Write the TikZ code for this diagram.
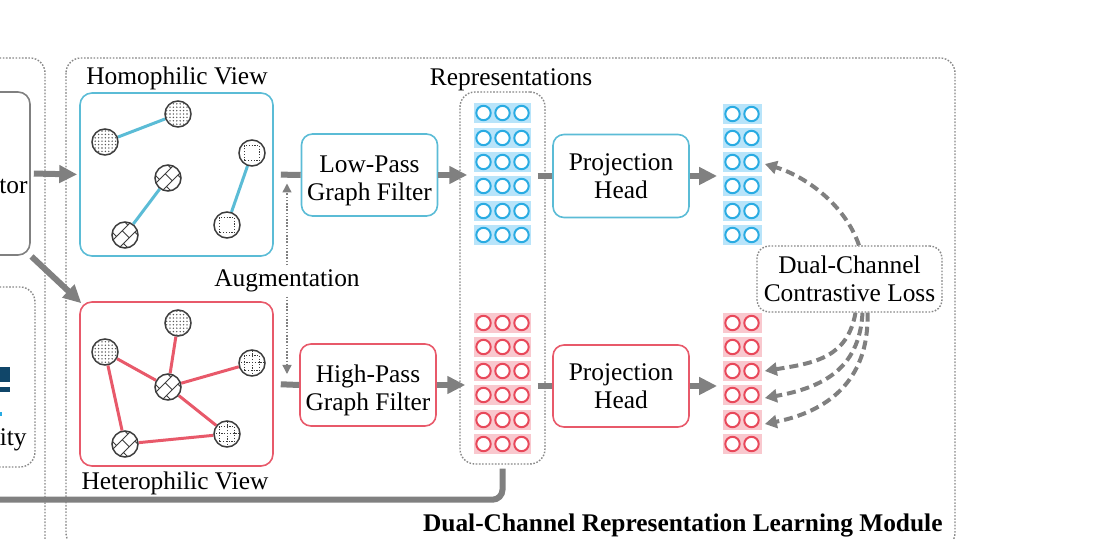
\documentclass[tikz,border=0pt]{standalone}
\usepackage{fontspec}
\setmainfont{Liberation Serif}
\usetikzlibrary{arrows.meta,patterns.meta,backgrounds}
\definecolor{hblue}{RGB}{91,188,214}
\definecolor{hred}{RGB}{232,89,106}
\definecolor{cellb}{RGB}{184,228,250}
\definecolor{circb}{RGB}{41,171,226}
\definecolor{cellr}{RGB}{249,200,206}
\definecolor{circr}{RGB}{232,72,90}
\definecolor{arrgray}{RGB}{128,128,128}
\definecolor{dotgray}{RGB}{135,135,135}
\definecolor{darkblue}{RGB}{16,70,105}
\definecolor{nodeline}{RGB}{60,60,60}
\newcommand\lowtxt[1]{\raisebox{-3pt}[\height][\depth]{\begin{tabular}{@{}c@{}}#1\end{tabular}}}
\begin{document}
\begin{tikzpicture}[x=0.5pt,y=-0.5pt,
  font=\fontsize{12.7}{14}\selectfont,
  frame/.style={draw=dotgray, line width=0.7pt, dash pattern=on 0.8pt off 0.8pt, rounded corners=7.5pt},
  viewbox/.style={draw, line width=0.8pt, rounded corners=6pt, minimum width=96.5pt, minimum height=81.5pt, inner sep=0pt},
  procbox/.style={draw, line width=0.8pt, rounded corners=5.5pt, minimum width=68pt, minimum height=41pt, align=center, inner sep=0pt},
  thickarrow/.style={draw=arrgray, line width=3pt, -{Triangle[length=9pt,width=8.5pt]}},
  thickline/.style={draw=arrgray, line width=3pt},
  dasharrow/.style={draw=arrgray, line width=2pt, dash pattern=on 4.5pt off 2.5pt, -{Triangle[length=6pt,width=6.5pt]}},
  augarrow/.style={draw=arrgray, line width=0.7pt, dash pattern=on 0.8pt off 0.8pt, -{Triangle[length=4.5pt,width=4.5pt]}},
  gnode/.style={circle, draw=nodeline, line width=0.75pt, minimum size=13pt, inner sep=0pt, fill=white},
  dotn/.style={gnode, postaction={pattern={Dots[distance=1.7pt,radius=0.38pt]}, pattern color=black!65}},
  brickn/.style={gnode, path picture={
     \begin{scope}[shift={(path picture bounding box.center)}, x={(0.707pt,0.707pt)}, y={(-0.707pt,0.707pt)}]
       \draw[nodeline, line width=0.45pt] (-8,-2.5) -- (8,-2.5) (-8,2.5) -- (8,2.5)
         (0.5,-2.5) -- (0.5,2.5) (-3.5,2.5) -- (-3.5,8) (4.5,2.5) -- (4.5,8)
         (-3.5,-2.5) -- (-3.5,-8) (4.5,-2.5) -- (4.5,-8);
     \end{scope}}},
  sqn/.style={gnode, path picture={
     \draw[nodeline, line width=0.5pt, dash pattern=on 0.6pt off 0.8pt]
       ([shift={(-3.8pt,-3.8pt)}]path picture bounding box.center) rectangle ++(7.6pt,7.6pt);}},
  crossn/.style={gnode, path picture={
     \draw[nodeline, line width=0.5pt, dash pattern=on 0.6pt off 0.8pt]
       ([shift={(-3.8pt,-3.8pt)}]path picture bounding box.center) rectangle ++(7.6pt,7.6pt)
       ([xshift=-7pt]path picture bounding box.center) -- ++(14pt,0pt)
       ([yshift=-7pt]path picture bounding box.center) -- ++(0pt,14pt);}},
  hedgeb/.style={draw=hblue, line width=1.5pt},
  hedger/.style={draw=hred, line width=1.5pt},
  bcell/.style={rectangle, fill=cellb, minimum width=28.5pt, minimum height=10pt, inner sep=0pt,
     path picture={\foreach \k in {-1,0,1} \draw[circb, line width=1pt, fill=white]
       ([xshift=\k*9.5pt]path picture bounding box.center) circle (3.6pt);}},
  rcell/.style={rectangle, fill=cellr, minimum width=28.5pt, minimum height=10pt, inner sep=0pt,
     path picture={\foreach \k in {-1,0,1} \draw[circr, line width=1pt, fill=white]
       ([xshift=\k*9.5pt]path picture bounding box.center) circle (3.6pt);}},
  bcelltwo/.style={rectangle, fill=cellb, minimum width=19.5pt, minimum height=10pt, inner sep=0pt,
     path picture={\foreach \k in {-0.5,0.5} \draw[circb, line width=1pt, fill=white]
       ([xshift=\k*9.5pt]path picture bounding box.center) circle (3.6pt);}},
  rcelltwo/.style={rectangle, fill=cellr, minimum width=19.5pt, minimum height=10pt, inner sep=0pt,
     path picture={\foreach \k in {-0.5,0.5} \draw[circr, line width=1pt, fill=white]
       ([xshift=\k*9.5pt]path picture bounding box.center) circle (3.6pt);}},
]
\useasboundingbox (0,0) rectangle (1099,539);

% outer frames
\draw[frame] (-60,58) rectangle (45,580);
\draw[frame] (66,58) rectangle (955,548);
\draw[frame] (-60,287) rectangle (35,467);

% left partial module
\node[draw=arrgray, line width=0.8pt, rounded corners=6pt, minimum width=45pt, minimum height=81.5pt, inner sep=0pt] (tor) at (-15,173.5) {};
\node[anchor=east, inner sep=0pt] (tortext) at (28,186) {tor};
\fill[darkblue] (0,367) rectangle (10,382);
\fill[darkblue] (0,387) rectangle (10,392);
\fill[circb] (0,412) rectangle (2,416);
\node[anchor=east, inner sep=0pt] (itytext) at (27,440) {ity};

% views
\node[viewbox, draw=hblue] (homo) at (176.5,174.5) {};
\node (homolabel) at (177,78) {Homophilic View};
\node[viewbox, draw=hred, minimum height=82pt] (hetero) at (176.5,384) {};
\node (heterolabel) at (175,483) {Heterophilic View};

\node[dotn] (a1) at (105,142) {};
\node[dotn] (a2) at (178,114) {};
\node[brickn] (b1) at (168,178) {};
\node[brickn] (b2) at (125,235) {};
\node[sqn] (c1) at (252,153) {};
\node[sqn] (c2) at (227,225) {};

\node[dotn] (d1) at (105,352) {};
\node[dotn] (d2) at (178,323) {};
\node[brickn] (e1) at (168,387) {};
\node[brickn] (e2) at (125,444) {};
\node[crossn] (f1) at (252,363) {};
\node[crossn] (f2) at (227,434) {};

\begin{scope}[on background layer]
\draw[hedgeb] (a1) -- (a2) (b1) -- (b2) (c1) -- (c2);
\draw[hedger] (d1) -- (e1) (d2) -- (e1) (e1) -- (f1) (e1) -- (f2) (d1) -- (e2) (e2) -- (f2);
\end{scope}

% filters
\node[procbox, draw=hblue] (lowpass) at (369.5,175) {\lowtxt{Low-Pass\\Graph Filter}};
\node[procbox, draw=hred] (highpass) at (368,385) {\lowtxt{High-Pass\\Graph Filter}};

% augmentation
\node[inner sep=2pt] (aug) at (287,281) {Augmentation};
\draw[augarrow, shorten >=4.5pt] (aug.north) -- (aug.north |- homo.east);
\draw[augarrow, shorten >=5pt] (aug.south) -- (aug.south |- hetero.east);

% representations
\node[frame, minimum width=42.5pt, minimum height=186pt, inner sep=0pt] (repr) at (502.5,278) {};
\node (reprlabel) at (511,80) {Representations};
\foreach \i/\y in {1/113,2/138,3/162,4/186,5/211,6/235} {
  \node[bcell] (rb\i) at (502.5,\y) {};
}
\foreach \i/\y in {1/323,2/347,3/371,4/395,5/420,6/444} {
  \node[rcell] (rr\i) at (502.5,\y) {};
}

% projection heads
\node[procbox, draw=hblue, minimum height=41.5pt] (projb) at (621,176) {Projection\\Head};
\node[procbox, draw=hred] (projr) at (621,386) {Projection\\Head};

\foreach \i/\y in {1/114,2/138,3/162,4/186,5/211,6/235} {
  \node[bcelltwo] (pb\i) at (742,\y) {};
}
\foreach \i/\y in {1/323,2/347,3/371,4/395,5/420,6/444} {
  \node[rcelltwo] (pr\i) at (742,\y) {};
}

% loss
\node[frame, rounded corners=6pt, minimum width=92.5pt, minimum height=33pt, align=center, inner sep=0pt] (loss) at (849.5,279) {Dual-Channel\\Contrastive Loss};

% connectors
\draw[thickarrow, shorten <=1.5pt, shorten >=1pt] (tor.east) -- (homo.west);
\draw[thickarrow, shorten <=0.5pt, shorten >=-1.5pt] (tor.south east) -- (hetero.north west);
\draw[thickline, shorten <=3.5pt] (homo.east) -- (lowpass.west);
\draw[thickline, shorten <=3.5pt] (hetero.east) -- (highpass.west);
\draw[thickarrow, shorten >=-4pt] (lowpass.east) -- (lowpass.east -| repr.west);
\draw[thickarrow, shorten >=-3pt] (highpass.east) -- (highpass.east -| repr.west);
\draw[thickline, shorten <=-4pt] (repr.east |- projb.west) -- (projb.west);
\draw[thickline, shorten <=-4pt] (repr.east |- projr.west) -- (projr.west);
\draw[thickarrow, shorten >=2.5pt] (projb.east) -- (projb.east -| pb1.west);
\draw[thickarrow, shorten >=2.5pt] (projr.east) -- (projr.east -| pr1.west);
\draw[thickline, rounded corners=5pt, shorten <=2pt] (repr.south) -- ++(0,35) -- ++(-530,0) coordinate (bottomend);

% contrastive arrows
\draw[dasharrow] ([xshift=4.75pt]loss.north) .. controls +(-14,-41) and +(40,12) .. ([xshift=1.5pt,yshift=-1pt]pb3.east);
\draw[dasharrow] ([xshift=3pt]loss.south) .. controls +(-8,45) and +(50,-8) .. ([xshift=1.5pt]pr3.east);
\draw[dasharrow] ([xshift=6.5pt]loss.south) .. controls +(-3,58) and +(55,-10) .. ([xshift=1.5pt,yshift=-1.5pt]pr4.east);
\draw[dasharrow] ([xshift=9pt]loss.south) .. controls +(2,70) and +(60,-12) .. ([xshift=1.5pt,yshift=-2pt]pr5.east);

% title
\node[anchor=east, inner sep=0pt, font=\fontsize{12.7}{14}\selectfont\bfseries] (title) at (943,525) {Dual-Channel Representation Learning Module};
\end{tikzpicture}
\end{document}
